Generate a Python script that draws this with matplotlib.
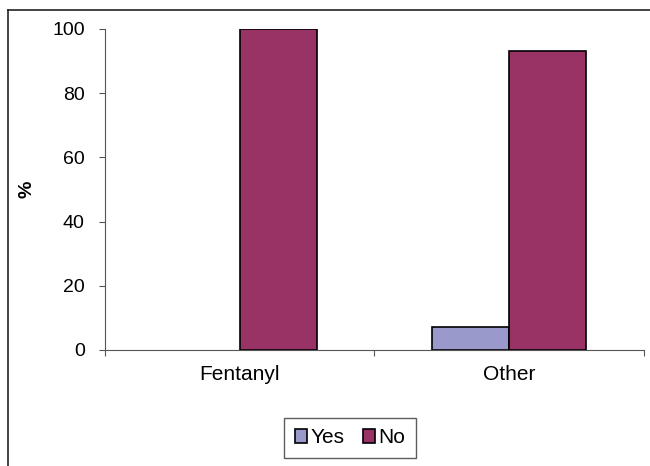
import matplotlib

matplotlib.use("Agg")
import matplotlib.pyplot as plt
import numpy as np
from matplotlib.lines import Line2D
from matplotlib.patches import Patch

categories = ["Fentanyl", "Other"]
yes_values = [0, 7]
no_values = [100, 93]
series_labels = ["Yes", "No"]
yticks = [0, 20, 40, 60, 80, 100]

YES_COLOR = "#9999cc"
NO_COLOR = "#993366"

plt.rcParams["font.family"] = ["Liberation Sans", "DejaVu Sans"]

fig = plt.figure(figsize=(6.5, 4.66), dpi=100)
ax = fig.add_axes([0.1615, 0.249, 0.8293, 0.689])

x = np.arange(len(categories))
width = 0.285
yes_bars = ax.bar(x - width / 2, yes_values, width, color=YES_COLOR, edgecolor="black",
                  linewidth=1.2)
ax.bar(x + width / 2, no_values, width, color=NO_COLOR, edgecolor="black", linewidth=1.2)
# a zero-height bar leaves no visible outline in the original
for bar in yes_bars:
    if bar.get_height() == 0:
        bar.set_linewidth(0)

ax.set_xlim(-0.5, 1.5)
ax.set_ylim(0, 100)
ax.set_yticks(yticks)
ax.set_xticks([-0.5, 0.5, 1.5])
ax.set_xticklabels([])
ax.set_xticks(x, minor=True)
ax.set_xticklabels(categories, minor=True)
ax.tick_params(axis="x", which="minor", length=0, pad=11, labelsize=15)
ax.tick_params(axis="x", which="major", length=4.5, color="#555555")
ax.tick_params(axis="y", length=4.5, color="#555555", labelsize=14, pad=10)
ax.set_ylabel("%", fontsize=14, fontweight="bold", labelpad=12)
for side in ("top", "right"):
    ax.spines[side].set_visible(False)
for side in ("left", "bottom"):
    ax.spines[side].set_color("#555555")

handles = [Patch(facecolor=c, edgecolor="black", linewidth=1.2) for c in (YES_COLOR, NO_COLOR)]
leg = ax.legend(handles, series_labels, loc="center", bbox_to_anchor=(0.4545, -0.274), ncol=2,
                fontsize=15, frameon=True, fancybox=False, handlelength=0.6,
                handleheight=0.6, handletextpad=0.15, columnspacing=0.9,
                borderpad=0.5)
leg.get_frame().set_edgecolor("#333333")
leg.get_frame().set_linewidth(1.0)

# outer frame (left and top edges only visible)
fig.add_artist(Line2D([8 / 650, 8 / 650], [0, 1 - 10 / 466], transform=fig.transFigure,
                      color="#222222", linewidth=1.2))
fig.add_artist(Line2D([8 / 650, 1], [1 - 10 / 466, 1 - 10 / 466], transform=fig.transFigure,
                      color="#222222", linewidth=1.2))

fig.savefig("out.png", dpi=100)
